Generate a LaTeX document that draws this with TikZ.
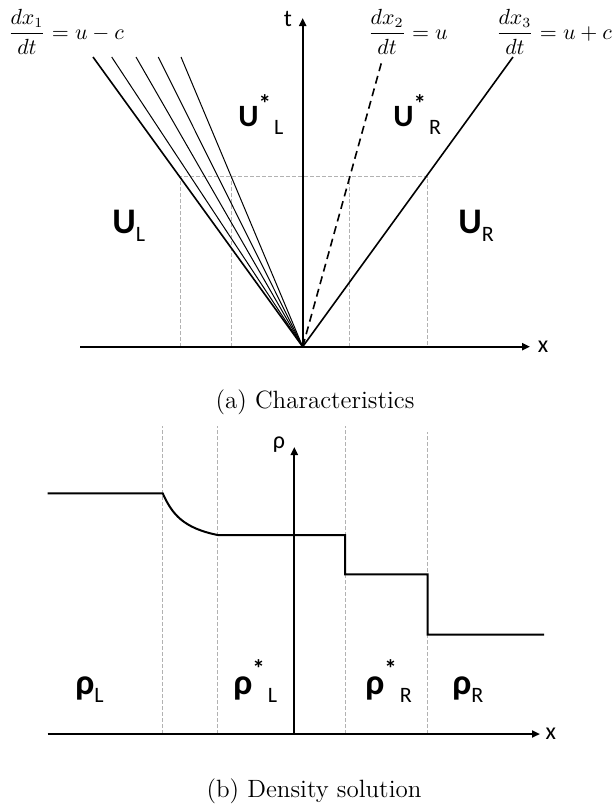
\documentclass[tikz,border=0pt]{standalone}
\usepackage{fontspec}
\newfontfamily\calibri{Carlito}
\usetikzlibrary{arrows.meta}
\newcommand{\lowsub}[1]{\raisebox{-4.3pt}{\mdseries\fontsize{11}{11}\selectfont #1}}
\newcommand{\starsup}[1][7pt]{\raisebox{#1}{\bfseries\fontsize{12.5}{12.5}\selectfont *}\kern1.5pt}

\begin{document}
\begin{tikzpicture}[x=0.5pt, y=-0.5pt,
   axis/.style={line width=1pt, -{Triangle[length=4pt,width=3.5pt]}},
   wave/.style={line width=0.5pt},
   front/.style={line width=0.8pt},
   profile/.style={line width=1pt, line join=miter},
   guide/.style={draw=black!30, line width=0.5pt, dash pattern=on 2pt off 1pt},
   state/.style={font=\calibri\bfseries\fontsize{18}{18}\selectfont, inner sep=0pt, anchor=base west},
   axlabel/.style={font=\calibri\fontsize{12}{12}\selectfont, inner sep=0pt},
   slope/.style={font=\fontsize{10.5}{12}\selectfont, inner sep=0pt},
   caption/.style={font=\fontsize{12.5}{14}\selectfont, inner sep=0pt}]

  \useasboundingbox (0,0) rectangle (616,804);

  % (a) characteristics in the x-t plane
  \coordinate (O) at (302.7,346.7);
  \coordinate (xa0) at (80,346.7);
  \coordinate (xa1) at (530,346.7);
  \coordinate (ta1) at (302.7,18);
  \coordinate (contact) at (381.7,61.7);
  \coordinate (shock) at (513,57);
  \foreach \fx [count=\i] in {93,111.7,136,158.3,181}
    \coordinate (fan\i) at (\fx,57);

  \draw[guide] (180,346.7) -- (180,176.7) -- (427.3,176.7) -- (427.3,346.7);
  \foreach \gx in {231,349.3}
    \draw[guide] (\gx,346.7) -- (\gx,176.7);

  \draw[front] (O) -- (fan1);
  \foreach \i in {2,...,5}
    \draw[wave] (O) -- (fan\i);
  \draw[front, dash pattern=on 4pt off 2.5pt] (O) -- (contact);
  \draw[front] (O) -- (shock);

  \draw[axis] (xa0) -- (xa1);
  \draw[axis] (O) -- (ta1);
  \node[axlabel] (xlaba) at (543,347) {x};
  \node[axlabel] (tlab) at (288,19) {t};

  \node[slope] (slope1) at (66,31.5) {$\displaystyle\frac{dx_1}{dt}=u-c$};
  \node[slope] (slope2) at (408,31.5) {$\displaystyle\frac{dx_2}{dt}=u$};
  \node[slope] (slope3) at (554,31.5) {$\displaystyle\frac{dx_3}{dt}=u+c$};

  \node[state] (UL) at (112,233) {U\lowsub{L}};
  \node[state, font=\calibri\bfseries\fontsize{15.5}{16}\selectfont] (ULs) at (238,126) {U\starsup\lowsub{L}};
  \node[state, font=\calibri\bfseries\fontsize{15.5}{16}\selectfont] (URs) at (393,126) {U\starsup\lowsub{R}};
  \node[state] (UR) at (458,233) {U\lowsub{R}};

  \node[caption] (capa) at (315,402) {(a) Characteristics};

  % (b) density profile
  \coordinate (P) at (294.3,734);
  \coordinate (xb0) at (47.7,734);
  \coordinate (xb1) at (540,734);
  \coordinate (rb1) at (294.3,447);

  \foreach \gx/\gy in {162.7/426,217.7/426,345/426,427.7/432}
    \draw[guide] (\gx,734) -- (\gx,\gy);

  \draw[profile] (47.7,493.3) -- (162.7,493.3)
    .. controls (172,514) and (183,528) .. (217.7,535)
    -- (345,535) -- (345,574.3) -- (427.7,574.3) -- (427.7,634.7) -- (544,634.7);

  \draw[axis] (xb0) -- (xb1);
  \draw[axis] (P) -- (rb1);
  \node[axlabel] (xlabb) at (550.7,734) {x};
  \node[axlabel] (rholab) at (279,445) {ρ};

  \node[state] (rL) at (75,694) {ρ\lowsub{L}};
  \node[state] (rLs) at (233,694) {ρ\starsup[8.5pt]\lowsub{L}};
  \node[state] (rRs) at (365,694) {ρ\starsup[8.5pt]\lowsub{R}};
  \node[state] (rR) at (452,694) {ρ\lowsub{R}};

  \node[caption] (capb) at (314,791) {(b) Density solution};
\end{tikzpicture}
\end{document}
